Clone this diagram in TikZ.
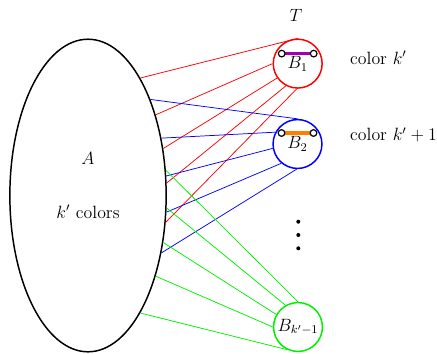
\documentclass[tikz,border=0pt]{standalone}
\usetikzlibrary{shapes.geometric}
\definecolor{barpurple}{RGB}{160,0,180}
\definecolor{barorange}{RGB}{255,128,0}
\definecolor{lgreen}{RGB}{0,240,0}
\begin{document}
\begin{tikzpicture}[x=0.675pt,y=-0.675pt,
 every node/.style={font=\fontsize{12}{14}\selectfont},
 setA/.style={draw=black, line width=1pt, ellipse, minimum width=105.5pt, minimum height=211pt, inner sep=0pt},
 setB/.style={draw=#1, line width=1pt, circle, minimum size=33pt, inner sep=0pt},
 edge/.style={draw=#1, line width=0.5pt},
 bar/.style={draw=#1, line width=2.2pt},
 endpt/.style={circle, draw=black, fill=white, line width=0.8pt, inner sep=0pt, minimum size=4.5pt},
 vdot/.style={circle, fill=black, inner sep=0pt, minimum size=2.7pt}]
\useasboundingbox (0,0) rectangle (437,353);
% nodes
\node[setA] (A) at (88,195.5) {};
\node (Alab) at (88,158) {$A$};
\node (Acol) at (88,212) {$k'$ colors};
\node[setB=red] (B1) at (297.7,63.6) {\raisebox{-2.5pt}{$B_1$}};
\node[setB=blue] (B2) at (297.5,144) {\raisebox{-2.5pt}{$B_2$}};
\node[setB=lgreen] (B3) at (298,327) {$B_{k'-1}$};
\node (T) at (296,15) {$T$};
\node[anchor=west] (C1) at (345,58) {color $k'$};
\node[anchor=west] (C2) at (345,135) {color $k'+1$};
\node[vdot] (d1) at (298.3,221.7) {};
\node[vdot] (d2) at (298.3,235) {};
\node[vdot] (d3) at (298.3,248.3) {};
% red edges
\draw[edge=red] (A.66.3) -- (B1.90);
\draw[edge=red] (A.50.5) -- (B1.180);
\draw[edge=red] (A.32.3) -- (B1.215);
\draw[edge=red] (A.9) -- (B1.242);
\draw[edge=red] (A.-19) -- (B1.268);
% blue edges
\draw[edge=blue] (A.57.5) -- (B2.90);
\draw[edge=blue] (A.38.2) -- (B2.152);
\draw[edge=blue] (A.14) -- (B2.190);
\draw[edge=blue] (A.-12.5) -- (B2.230);
\draw[edge=blue] (A.-38.7) -- (B2.268);
% green edges
\draw[edge=lgreen] (A.18.8) -- (B3.90);
\draw[edge=lgreen] (A.-9) -- (B3.120);
\draw[edge=lgreen] (A.-32.3) -- (B3.150);
\draw[edge=lgreen] (A.-50.5) -- (B3.180);
\draw[edge=lgreen] (A.-66.3) -- (B3.244);
% bars
\coordinate (p1) at ([shift={(-16,-10)}]B1.center);
\coordinate (q1) at ([shift={(16,-10)}]B1.center);
\draw[bar=barpurple] (p1) -- (q1);
\node[endpt] (e1) at (p1) {};
\node[endpt] (f1) at (q1) {};
\coordinate (p2) at ([shift={(-16,-11)}]B2.center);
\coordinate (q2) at ([shift={(16,-11)}]B2.center);
\draw[bar=barorange] (p2) -- (q2);
\node[endpt] (e2) at (p2) {};
\node[endpt] (f2) at (q2) {};
\end{tikzpicture}
\end{document}
